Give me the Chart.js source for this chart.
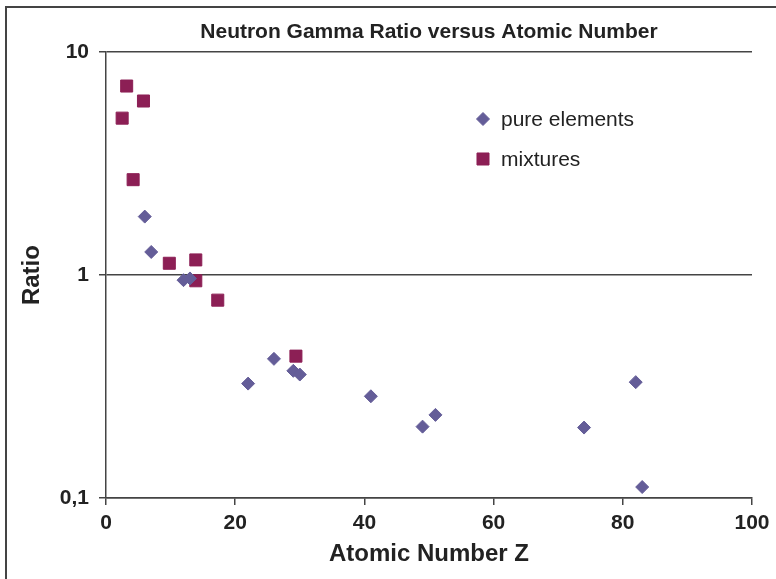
<!DOCTYPE html>
<html>
<head>
<meta charset="utf-8">
<script src="https://cdn.jsdelivr.net/npm/chart.js@4/dist/chart.umd.min.js"></script>
<style>
    html, body { margin: 0; padding: 0; background: #fff; overflow: hidden; }
    #c { position: absolute; left: 0; top: 0; }
</style>
</head>
<body>
<canvas id="c" width="776" height="579"></canvas>
<script>
// data
const pureZ     = [6, 7, 12, 13, 22, 26, 29, 30, 41, 49, 51, 74, 82, 83];
const pureRatio = [1.83, 1.27, 0.949, 0.966, 0.326, 0.421, 0.372, 0.358, 0.286, 0.209, 0.236, 0.207, 0.331, 0.112];

const mixZ     = [3.2, 5.8, 2.5, 4.2, 9.8, 13.9, 13.9, 17.3, 29.4];
const mixRatio = [7.05, 6.04, 5.06, 2.68, 1.13, 1.17, 0.943, 0.772, 0.433];

const xTicks = [0, 20, 40, 60, 80, 100];
const yTickValues = [0.1, 1, 10];
const yTickLabels = ['0,1', '1', '10'];

const FONT = "'Liberation Sans', Arial, sans-serif";
const AXIS = '#444';

function toPoints(xs, ys) {
    return xs.map((x, i) => ({ x: x, y: ys[i] }));
}

// outer frame: only left and top edges show in the original
const frame = {
    id: 'frame',
    beforeDraw(chart) {
        const ctx = chart.ctx;
        ctx.save();
        ctx.strokeStyle = '#444';
        ctx.lineWidth = 2;
        ctx.beginPath();
        ctx.moveTo(6, chart.height);
        ctx.lineTo(6, 7);
        ctx.lineTo(chart.width, 7);
        ctx.stroke();
        ctx.restore();
    }
};

// legend drawn inside the plot, like the original
const innerLegend = {
    id: 'innerLegend',
    afterDatasetsDraw(chart) {
        const ctx = chart.ctx;
        const x0 = 483, y0 = 119, step = 40;
        ctx.save();
        chart.data.datasets.forEach((ds, i) => {
            const y = y0 + i * step;
            ctx.fillStyle = ds.backgroundColor;
            ctx.strokeStyle = ds.borderColor;
            ctx.lineWidth = 1;
            Chart.helpers.drawPoint(ctx, {
                pointStyle: ds.pointStyle,
                radius: ds.pointRadius,
                borderWidth: 1
            }, x0, y);
            ctx.fillStyle = '#222';
            ctx.font = '21px ' + FONT;
            ctx.textBaseline = 'middle';
            ctx.textAlign = 'left';
            ctx.fillText(ds.label, x0 + 18, y + 1);
        });
        ctx.restore();
    }
};

new Chart(document.getElementById('c'), {
    type: 'scatter',
    data: {
        datasets: [{
            label: 'pure elements',
            data: toPoints(pureZ, pureRatio),
            pointStyle: 'rectRot',
            pointRadius: 6.5,
            backgroundColor: '#645d98',
            borderColor: '#645d98',
            borderWidth: 1
        }, {
            label: 'mixtures',
            data: toPoints(mixZ, mixRatio),
            pointStyle: 'rect',
            pointRadius: 8.5,
            backgroundColor: '#8c1f55',
            borderColor: '#8c1f55',
            borderWidth: 1
        }]
    },
    options: {
        responsive: false,
        animation: false,
        layout: { padding: { left: 0, right: 24, top: 0, bottom: 0 } },
        plugins: {
            legend: { display: false },
            tooltip: { enabled: false },
            title: {
                display: true,
                fullSize: false,
                text: 'Neutron Gamma Ratio versus Atomic Number',
                color: '#222',
                font: { family: FONT, size: 21, weight: 'bold', lineHeight: 1.2 },
                padding: { top: 20, bottom: 7 }
            }
        },
        scales: {
            x: {
                type: 'linear',
                min: 0,
                max: 100,
                afterBuildTicks: scale => { scale.ticks = xTicks.map(v => ({ value: v })); },
                afterFit: scale => { scale.height = 81; },
                border: { display: true, color: AXIS, width: 1.5 },
                grid: { drawOnChartArea: false, drawTicks: true, tickLength: 7, color: AXIS, lineWidth: 1.5 },
                ticks: {
                    color: '#222',
                    padding: 6,
                    maxRotation: 0,
                    font: { family: FONT, size: 21, weight: 'bold' }
                },
                title: {
                    display: true,
                    text: 'Atomic Number Z',
                    color: '#222',
                    font: { family: FONT, size: 24, weight: 'bold' },
                    padding: { top: 0, bottom: 10 }
                }
            },
            y: {
                type: 'logarithmic',
                min: 0.1,
                max: 10,
                afterBuildTicks: scale => { scale.ticks = yTickValues.map(v => ({ value: v })); },
                afterFit: scale => { scale.width = 106; },
                border: { display: true, color: AXIS, width: 1.5 },
                grid: { drawOnChartArea: true, drawTicks: true, tickLength: 7, color: AXIS, lineWidth: 1.5 },
                ticks: {
                    color: '#222',
                    padding: 10,
                    font: { family: FONT, size: 21, weight: 'bold' },
                    callback: function(value) {
                        const i = yTickValues.indexOf(value);
                        return i >= 0 ? yTickLabels[i] : '';
                    }
                },
                title: {
                    display: true,
                    text: 'Ratio',
                    color: '#222',
                    font: { family: FONT, size: 24, weight: 'bold' },
                    padding: { top: 18, bottom: 0 }
                }
            }
        }
    },
    plugins: [frame, innerLegend]
});
</script>
</body>
</html>
